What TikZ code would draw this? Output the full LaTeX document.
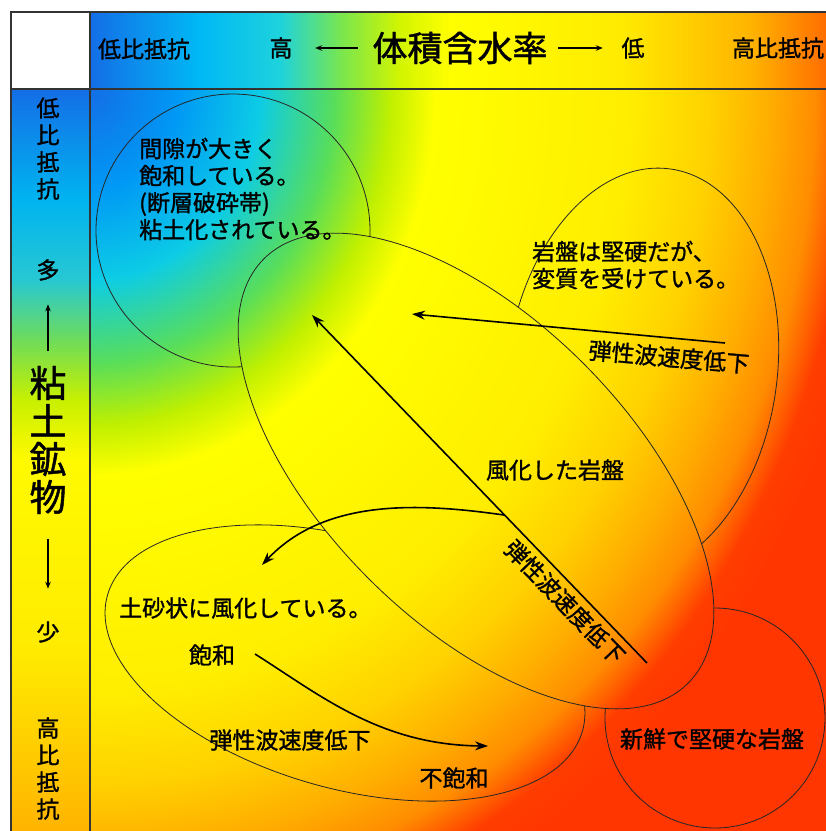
\documentclass[tikz,border=0pt]{standalone}
\usepackage{fontspec}
\newfontfamily\jp{Noto Sans CJK JP}[FakeBold=1.2]
\usetikzlibrary{arrows.meta,calc}

\pgfdeclareradialshading{bgrad}{\pgfpoint{0bp}{0bp}}{%
 rgb(0bp)=(0.078,0.431,0.902);
 rgb(2.25bp)=(0,0.6,0.96);
 rgb(4.25bp)=(0.05,0.8,0.9);
 rgb(6.125bp)=(0.35,0.87,0.35);
 rgb(7.5bp)=(0.75,0.94,0);
 rgb(8.625bp)=(1,1,0);
 rgb(13.5bp)=(1,0.93,0);
 rgb(15.5bp)=(1,0.82,0);
 rgb(17bp)=(1,0.68,0);
 rgb(18.125bp)=(1,0.55,0);
 rgb(18.625bp)=(1,0.4,0);
 rgb(19.125bp)=(1,0.24,0);
 rgb(20bp)=(1,0.21,0);
 rgb(50bp)=(1,0.21,0)}

\pgfdeclarehorizontalshading{hgrad}{100bp}{%
 rgb(0bp)=(0.078,0.431,0.902);
 rgb(25bp)=(0.078,0.431,0.902);
 rgb(32.47bp)=(0,0.725,0.961);
 rgb(37.9bp)=(0.118,0.824,0.863);
 rgb(42bp)=(0.471,0.902,0.314);
 rgb(46.06bp)=(0.824,0.961,0);
 rgb(49.46bp)=(1,1,0);
 rgb(61bp)=(1,0.922,0);
 rgb(69.84bp)=(1,0.706,0);
 rgb(75bp)=(1,0.431,0);
 rgb(100bp)=(1,0.431,0)}

\pgfdeclareverticalshading{vgrad}{100bp}{%
 rgb(0bp)=(1,0.706,0);
 rgb(25bp)=(1,0.706,0);
 rgb(37.2bp)=(1,0.922,0);
 rgb(50bp)=(1,0.98,0);
 rgb(54.04bp)=(0.784,0.941,0);
 rgb(58.09bp)=(0.431,0.863,0.353);
 rgb(62.13bp)=(0.157,0.784,0.824);
 rgb(67.52bp)=(0,0.706,0.941);
 rgb(75bp)=(0.078,0.431,0.902);
 rgb(100bp)=(0.078,0.431,0.902)}

\newcommand\bgshade{\shade[shading=bgrad] (-910,-1031) rectangle (1090,1209);}

\tikzset{
  jt/.style={font=\jp\fontsize{23}{27}\selectfont, inner sep=0pt},
  ell/.style={draw=black!85, line width=0.8pt},
  frameline/.style={draw=black!80, line width=1.6pt},
  arr/.style={draw=black, line width=1.6pt, -{Stealth[length=13pt,width=9pt]}},
  sarr/.style={draw=black, line width=1.4pt, -{Stealth[length=7pt,width=5.5pt]}}
}

\begin{document}
\begin{tikzpicture}[x=1pt,y=-1pt]
\useasboundingbox (0,0) rectangle (826,831);
\fill[white] (0,0) rectangle (826,831);

% backgrounds
\shade[shading=hgrad] (90,12) rectangle (826,89);
\shade[shading=vgrad] (11,89) rectangle (90,831);
\begin{scope}
  \clip (90,89) rectangle (826,831);
  \bgshade
  % region outlines
  \draw[ell] (233,230.5) ellipse [x radius=137, y radius=136.5];
  \draw[ell, rotate around={-8:(642,372)}] (642,372) ellipse [x radius=135, y radius=205];
  \draw[ell, rotate around={-16:(345,663)}] (345,663) ellipse [x radius=247, y radius=125];
  \draw[ell] (715,718) circle [radius=110];
  % big ellipse on top
  \begin{scope}
    \clip[rotate around={-45:(476,471)}] (476,471) ellipse [x radius=300, y radius=152];
    \bgshade
  \end{scope}
  \draw[ell, rotate around={-45:(476,471)}] (476,471) ellipse [x radius=300, y radius=152];
\end{scope}

% frame
\draw[frameline] (11,831) -- (11,12) -- (826,12);
\draw[frameline] (90,12) -- (90,831);
\draw[frameline] (11,89) -- (826,89);

% header
\node[jt] (hlow) at (144,49) {低比抵抗};
\node[jt] (hhigh) at (281,48) {高};
\node[font=\jp\fontsize{35}{40}\selectfont, inner sep=0pt] (htitle) at (460,48) {体積含水率};
\node[jt] (hlo2) at (633,48) {低};
\node[jt] (hhi) at (778,48) {高比抵抗};
\draw[sarr, shorten <=14.5pt, shorten >=22.5pt] (htitle.west) -- (hhigh.east);
\draw[sarr, shorten <=10.5pt, shorten >=18.5pt] (htitle.east) -- (hlo2.west);

% left column
\node[jt, align=center] (vlow) at (48,148.5) {低\\比\\抵\\抗};
\node[jt] (vmany) at (48,270) {多};
\node[font=\jp\fontsize{37}{38}\selectfont, align=center, inner sep=0pt] (vclay) at (48,440) {粘\\土\\鉱\\物};
\node[jt] (vfew) at (48,632) {少};
\node[jt, align=center] (vhigh) at (48,768.5) {高\\比\\抵\\抗};
\draw[sarr, shorten <=14.5pt, shorten >=23.5pt] (vclay.north) -- (vmany.south);
\draw[sarr, shorten <=24.5pt, shorten >=32.5pt] (vclay.south) -- (vfew.north);

% region texts
\node[jt, align=left, anchor=west] (t1) at (139,189) {間隙が大きく\\飽和している。\\(断層破砕帯)\\粘土化されている。};
\node[jt, align=left, anchor=west] (t2) at (532,265) {岩盤は堅硬だが、\\変質を受けている。};
\node[jt, rotate=-5] (t3) at (669,357) {弾性波速度低下};
\node[jt] (t4) at (555,470) {風化した岩盤};
\node[jt, rotate=-46] (t5) at (565,602) {弾性波速度低下};
\node[jt, anchor=west] (t6) at (119,608) {土砂状に風化している。};
\node[jt] (t7) at (212,655) {飽和};
\node[jt] (t8) at (290,740) {弾性波速度低下};
\node[jt] (t9) at (454,778) {不飽和};
\node[jt] (t10) at (712,739) {新鮮で堅硬な岩盤};

% arrows
\coordinate (a1s) at (647,663);
\coordinate (a1e) at (312,315);
\coordinate (a2s) at (725,343);
\coordinate (a2e) at (412,314);
\coordinate (a3s) at ($(a1s)!0.425!(a1e)$);
\coordinate (a3e) at (262,565);
\coordinate (a4s) at (255,654);
\coordinate (a4e) at (488,746);
\draw[arr] (a1s) -- (a1e);
\draw[arr] (a2s) -- (a2e);
\draw[arr] (a3s) .. controls (420,503) and (325,498) .. (a3e);
\draw[arr] (a4s) .. controls (320,695) and (380,745) .. (a4e);
\end{tikzpicture}
\end{document}
